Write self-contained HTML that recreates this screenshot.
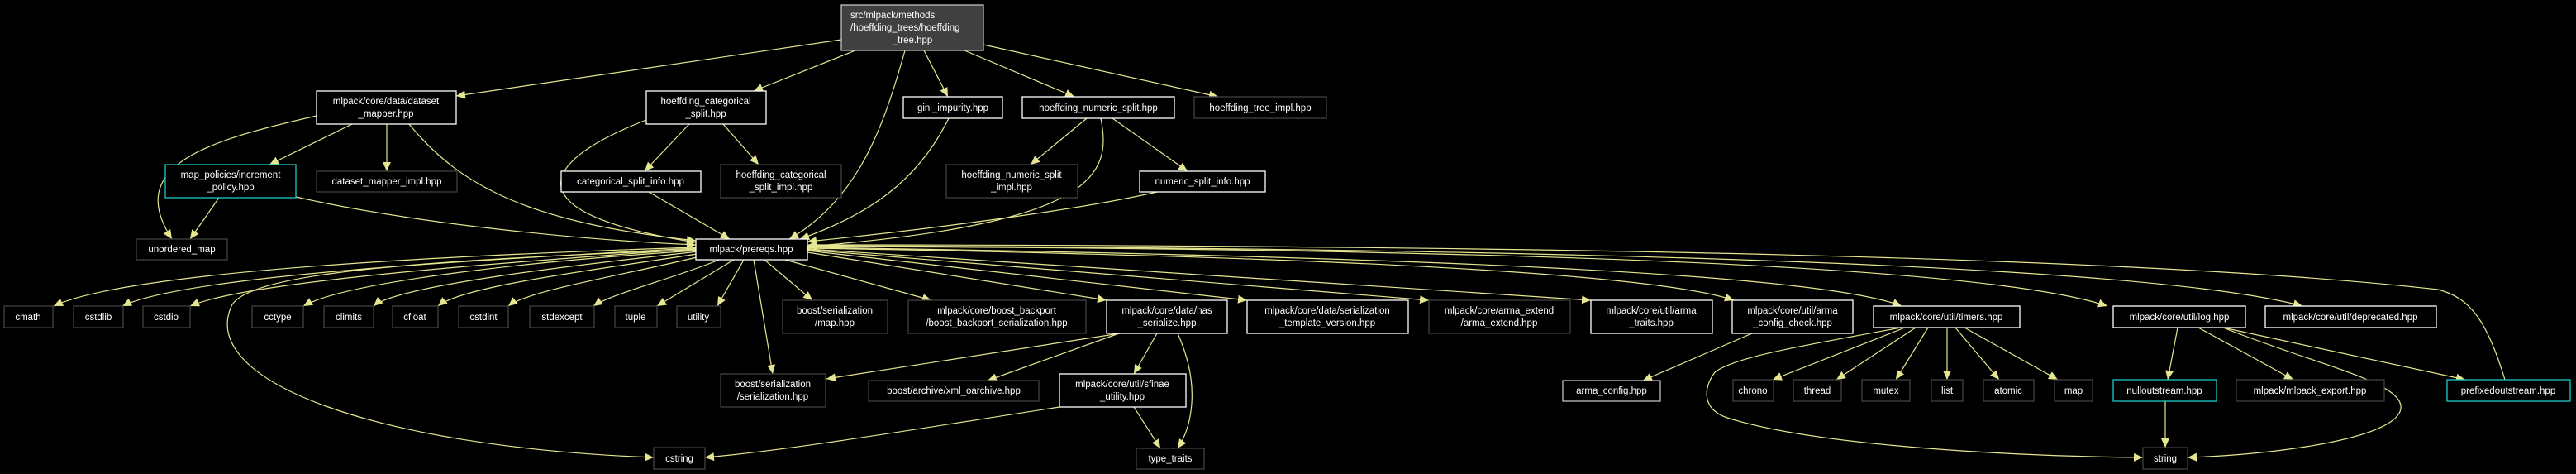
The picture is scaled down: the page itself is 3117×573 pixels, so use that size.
<!DOCTYPE html>
<html><head><meta charset="utf-8"><style>
html,body{margin:0;padding:0;background:#000;}
svg{display:block}
text{font-family:"Liberation Sans",sans-serif;font-size:11.5px;fill:#fff;text-anchor:middle}
.w{fill:#000;stroke:#fff;stroke-width:1.3}
.g{fill:#000;stroke:#404040;stroke-width:1.3}
.c{fill:#000;stroke:#1ac8c8;stroke-width:1.3}
.e{fill:none;stroke:#e6e690;stroke-width:1.2}
</style></head><body>
<svg width="3117" height="573" viewBox="0 0 3117 573" xmlns="http://www.w3.org/2000/svg">
<defs><marker id="a" markerUnits="userSpaceOnUse" markerWidth="12" markerHeight="10" refX="11" refY="5" orient="auto"><path d="M0,0 L11,5 L0,10 z" fill="#e6e690"/></marker></defs>
<g class="e" marker-end="url(#a)">
<path d="M1018,48 L552,116"/>
<path d="M1035,61 L912,110"/>
<path d="M1095,61 C1070,150 1040,240 955,289"/>
<path d="M1118,61 L1147,117"/>
<path d="M1167,61 L1300,117"/>
<path d="M1190,54 L1474,117"/>
<path d="M383,140 C250,170 150,200 208,289"/>
<path d="M426,150 L326,199"/>
<path d="M468,150 L468,207"/>
<path d="M495,150 C560,230 650,270 842,291"/>
<path d="M782,145 C640,200 630,260 842,293"/>
<path d="M834,150 L780,207"/>
<path d="M875,150 L918,199"/>
<path d="M785,232 L883,289"/>
<path d="M265,239 L230,289"/>
<path d="M358,238 C500,270 700,290 842,296"/>
<path d="M1148,143 C1110,220 1050,260 968,289"/>
<path d="M1315,143 L1247,199"/>
<path d="M1346,143 L1437,207"/>
<path d="M1332,143 C1345,210 1330,270 977,298"/>
<path d="M1400,232 C1300,255 1100,280 977,292"/>
<path d="M842,299 C500,310 150,330 65,370"/>
<path d="M842,300 C550,315 220,335 148,370"/>
<path d="M842,301 C600,318 300,340 230,370"/>
<path d="M842,302 C500,315 300,330 280,370 C240,460 450,540 791,553"/>
<path d="M842,303 C650,315 420,340 367,370"/>
<path d="M845,304 C700,320 480,345 452,370"/>
<path d="M850,306 C730,325 560,345 530,370"/>
<path d="M855,308 C770,330 640,350 615,370"/>
<path d="M870,314 C820,335 740,355 718,370"/>
<path d="M888,314 L795,370"/>
<path d="M900,314 L868,370"/>
<path d="M912,314 L935,452"/>
<path d="M925,314 L983,363"/>
<path d="M950,314 L1127,363"/>
<path d="M977,305 L1339,363"/>
<path d="M977,303 L1509,363"/>
<path d="M977,302 L1729,363"/>
<path d="M977,301 L1925,363"/>
<path d="M977,300 C1600,310 2000,330 2098,363"/>
<path d="M977,299 C1700,310 2200,330 2301,370"/>
<path d="M977,298 C1800,300 2400,320 2550,370"/>
<path d="M977,297 C1900,300 2600,320 2786,370"/>
<path d="M3031,459 C3010,390 2990,360 2950,350 C2500,300 1500,296 978,296"/>
<path d="M1355,403 L1000,458"/>
<path d="M1354,403 L1195,460"/>
<path d="M1400,403 L1372,452"/>
<path d="M1425,403 C1455,470 1440,520 1425,542"/>
<path d="M1372,492 L1404,542"/>
<path d="M1282,492 C1100,520 950,545 853,553"/>
<path d="M2305,396 L2145,459"/>
<path d="M2318,396 L2222,459"/>
<path d="M2333,396 L2294,459"/>
<path d="M2356,396 L2356,459"/>
<path d="M2366,396 L2419,459"/>
<path d="M2377,396 L2490,459"/>
<path d="M2300,396 C2200,415 2100,430 2075,450 C2060,470 2060,495 2090,505 C2200,540 2450,552 2593,553"/>
<path d="M2635,396 L2623,459"/>
<path d="M2660,396 L2775,459"/>
<path d="M2690,396 L2983,459"/>
<path d="M2690,396 C2800,440 2900,460 2905,490 C2910,530 2750,550 2647,553"/>
<path d="M2620,485 L2620,541"/>
<path d="M2120,403 L1988,460"/>
</g>
<rect x="1018" y="6" width="172" height="55" fill="#404040" stroke="#c0c0c0" stroke-width="1.3"/>
<text x="1029" y="22" style="text-anchor:start">src/mlpack/methods</text>
<text x="1029" y="37" style="text-anchor:start">/hoeffding_trees/hoeffding</text>
<text x="1104" y="52">_tree.hpp</text>

<rect class="w" x="383" y="110" width="169" height="40"/><text x="467" y="126">mlpack/core/data/dataset</text><text x="467" y="141">_mapper.hpp</text>
<rect class="w" x="782" y="110" width="145" height="40"/><text x="854" y="126">hoeffding_categorical</text><text x="854" y="141">_split.hpp</text>
<rect class="w" x="1093" y="117" width="120" height="26"/><text x="1153" y="134">gini_impurity.hpp</text>
<rect class="w" x="1237" y="117" width="184" height="26"/><text x="1329" y="134">hoeffding_numeric_split.hpp</text>
<rect class="g" x="1445" y="117" width="160" height="26"/><text x="1525" y="134">hoeffding_tree_impl.hpp</text>

<rect class="c" x="200" y="199" width="158" height="40"/><text x="279" y="215">map_policies/increment</text><text x="279" y="230">_policy.hpp</text>
<rect class="g" x="383" y="207" width="170" height="25"/><text x="468" y="223">dataset_mapper_impl.hpp</text>
<rect class="w" x="679" y="207" width="169" height="25"/><text x="763" y="223">categorical_split_info.hpp</text>
<rect class="g" x="872" y="199" width="146" height="40"/><text x="945" y="215">hoeffding_categorical</text><text x="945" y="230">_split_impl.hpp</text>
<rect class="g" x="1145" y="199" width="159" height="40"/><text x="1224" y="215">hoeffding_numeric_split</text><text x="1224" y="230">_impl.hpp</text>
<rect class="w" x="1379" y="207" width="152" height="25"/><text x="1455" y="223">numeric_split_info.hpp</text>

<rect class="g" x="165" y="289" width="110" height="25"/><text x="220" y="305">unordered_map</text>
<rect class="w" x="842" y="289" width="135" height="25"/><text x="909" y="305">mlpack/prereqs.hpp</text>

<rect class="g" x="5" y="370" width="59" height="26"/><text x="34" y="387">cmath</text>
<rect class="g" x="89" y="370" width="60" height="26"/><text x="119" y="387">cstdlib</text>
<rect class="g" x="173" y="370" width="57" height="26"/><text x="201" y="387">cstdio</text>
<rect class="g" x="305" y="370" width="62" height="26"/><text x="336" y="387">cctype</text>
<rect class="g" x="392" y="370" width="60" height="26"/><text x="422" y="387">climits</text>
<rect class="g" x="475" y="370" width="55" height="26"/><text x="502" y="387">cfloat</text>
<rect class="g" x="555" y="370" width="60" height="26"/><text x="585" y="387">cstdint</text>
<rect class="g" x="641" y="370" width="78" height="26"/><text x="680" y="387">stdexcept</text>
<rect class="g" x="744" y="370" width="51" height="26"/><text x="769" y="387">tuple</text>
<rect class="g" x="819" y="370" width="53" height="26"/><text x="845" y="387">utility</text>

<rect class="g" x="947" y="363" width="127" height="40"/><text x="1010" y="379">boost/serialization</text><text x="1010" y="394">/map.hpp</text>
<rect class="g" x="1099" y="363" width="215" height="40"/><text x="1206" y="379">mlpack/core/boost_backport</text><text x="1206" y="394">/boost_backport_serialization.hpp</text>
<rect class="w" x="1339" y="363" width="146" height="40"/><text x="1412" y="379">mlpack/core/data/has</text><text x="1412" y="394">_serialize.hpp</text>
<rect class="w" x="1509" y="363" width="195" height="40"/><text x="1606" y="379">mlpack/core/data/serialization</text><text x="1606" y="394">_template_version.hpp</text>
<rect class="g" x="1729" y="363" width="171" height="40"/><text x="1814" y="379">mlpack/core/arma_extend</text><text x="1814" y="394">/arma_extend.hpp</text>
<rect class="w" x="1925" y="363" width="147" height="40"/><text x="1998" y="379">mlpack/core/util/arma</text><text x="1998" y="394">_traits.hpp</text>
<rect class="w" x="2096" y="363" width="146" height="40"/><text x="2169" y="379">mlpack/core/util/arma</text><text x="2169" y="394">_config_check.hpp</text>
<rect class="w" x="2267" y="370" width="177" height="26"/><text x="2355" y="387">mlpack/core/util/timers.hpp</text>
<rect class="w" x="2557" y="370" width="160" height="26"/><text x="2637" y="387">mlpack/core/util/log.hpp</text>
<rect class="w" x="2741" y="370" width="207" height="26"/><text x="2844" y="387">mlpack/core/util/deprecated.hpp</text>

<rect class="g" x="872" y="452" width="127" height="40"/><text x="935" y="468">boost/serialization</text><text x="935" y="483">/serialization.hpp</text>
<rect class="g" x="1051" y="460" width="206" height="25"/><text x="1154" y="476">boost/archive/xml_oarchive.hpp</text>
<rect class="w" x="1282" y="452" width="153" height="40"/><text x="1358" y="468">mlpack/core/util/sfinae</text><text x="1358" y="483">_utility.hpp</text>
<rect x="1891" y="460" width="118" height="25" fill="#000" stroke="#c0c0c0" stroke-width="1.3"/><text x="1950" y="476">arma_config.hpp</text>

<rect class="g" x="2097" y="459" width="49" height="26"/><text x="2121" y="476">chrono</text>
<rect class="g" x="2170" y="459" width="58" height="26"/><text x="2199" y="476">thread</text>
<rect class="g" x="2253" y="459" width="58" height="26"/><text x="2282" y="476">mutex</text>
<rect class="g" x="2337" y="459" width="38" height="26"/><text x="2356" y="476">list</text>
<rect class="g" x="2400" y="459" width="61" height="26"/><text x="2430" y="476">atomic</text>
<rect class="g" x="2486" y="459" width="46" height="26"/><text x="2509" y="476">map</text>
<rect class="c" x="2557" y="459" width="125" height="26"/><text x="2619" y="476">nulloutstream.hpp</text>
<rect class="g" x="2706" y="459" width="179" height="26"/><text x="2795" y="476">mlpack/mlpack_export.hpp</text>
<rect class="c" x="2961" y="459" width="149" height="26"/><text x="3035" y="476">prefixedoutstream.hpp</text>

<rect class="g" x="791" y="541" width="62" height="26"/><text x="822" y="558">cstring</text>
<rect class="g" x="1375" y="542" width="82" height="25"/><text x="1416" y="558">type_traits</text>
<rect class="g" x="2593" y="541" width="54" height="26"/><text x="2620" y="558">string</text>
</svg>
</body></html>
